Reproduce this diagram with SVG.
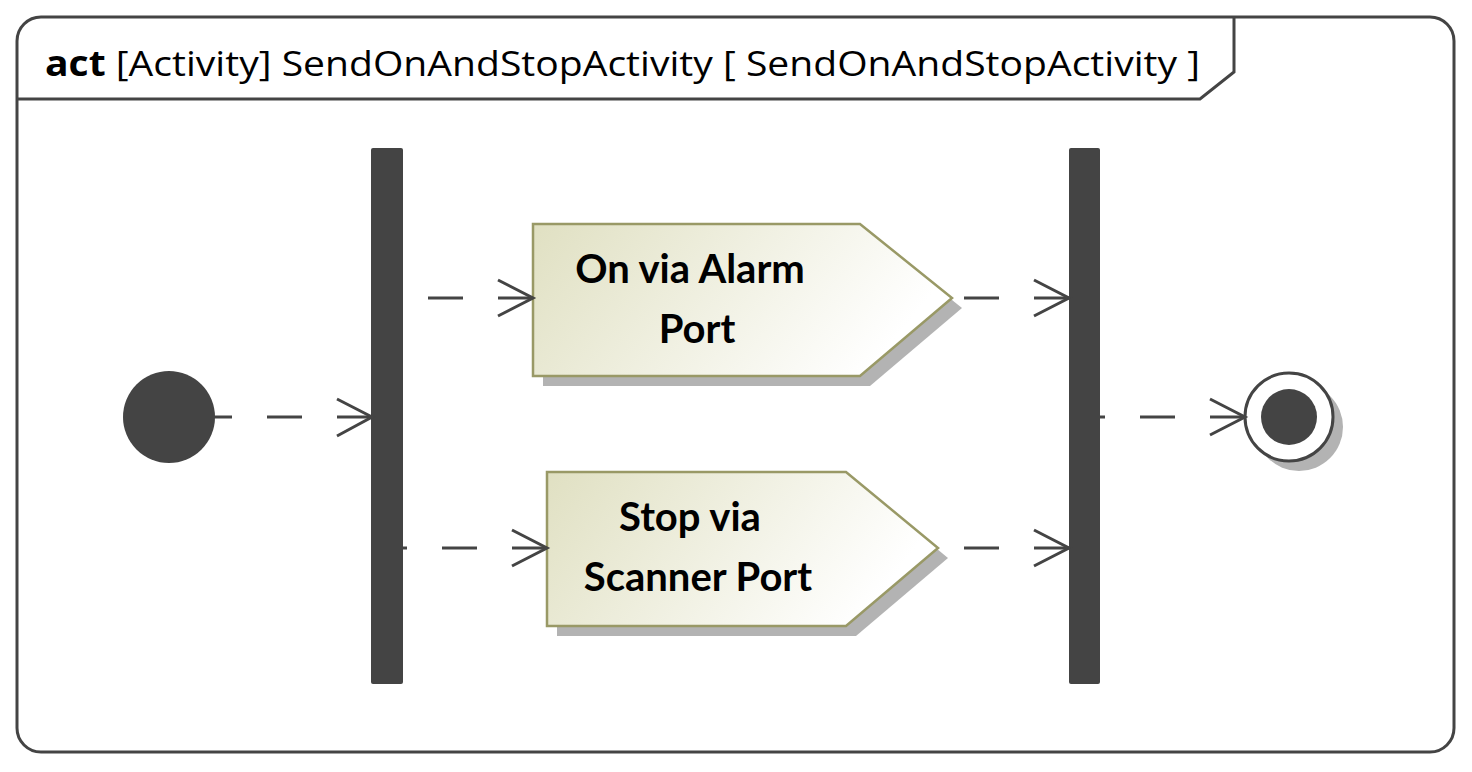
<svg xmlns="http://www.w3.org/2000/svg" width="1472" height="772" viewBox="0 0 1472 772">
<style>
.frame{fill:#fff;stroke:#444;stroke-width:3}
.bar{fill:#444}
.edge{fill:none;stroke:#444;stroke-width:3;stroke-dasharray:35 35}
.sig{stroke:#999966;stroke-width:2.5;fill:url(#g)}
.shadow{fill:#b3b3b3}
.lbl{font-family:Lato,"Open Sans","Liberation Sans",sans-serif;font-weight:bold;font-size:40px;fill:#000;text-anchor:middle}
.title{font-family:"Open Sans","Liberation Sans",sans-serif;font-size:35px;fill:#000}
.arrow{fill:none;stroke:#444;stroke-width:3}
</style>
<defs>
<linearGradient id="g" x1="0" y1="0" x2="1" y2="0.3">
<stop offset="0" stop-color="#e0e0c2"/>
<stop offset="1" stop-color="#ffffff"/>
</linearGradient>
</defs>
<g id="frame">
<rect class="frame" x="17" y="17" width="1437" height="735" rx="24" ry="24"/>
<path d="M17,99 L1200,99 L1234,72 L1234,17" fill="none" stroke="#444" stroke-width="3"/>
<text class="title" x="45" y="76" textLength="1155" lengthAdjust="spacingAndGlyphs"><tspan font-weight="bold">act</tspan> [Activity] SendOnAndStopActivity [ SendOnAndStopActivity  ]</text>
</g>
<g id="initial">
<circle cx="169" cy="417" r="46" fill="#444"/>
</g>
<g id="fork">
<rect class="bar" x="371" y="148" width="32" height="536" rx="2"/>
</g>
<g id="join">
<rect class="bar" x="1069" y="148" width="31" height="536" rx="2"/>
</g>
<g id="send1">
<polygon class="shadow" points="543,234 870,234 962,308 870,386 543,386"/>
<polygon class="sig" points="533,224 860,224 952,298 860,376 533,376"/>
<text class="lbl" x="690" y="283">On via Alarm</text>
<text class="lbl" x="697" y="343">Port</text>
</g>
<g id="send2">
<polygon class="shadow" points="557,482 856,482 948,558 856,636 557,636"/>
<polygon class="sig" points="547,472 846,472 938,548 846,626 547,626"/>
<text class="lbl" x="690" y="531">Stop via</text>
<text class="lbl" x="698" y="591">Scanner Port</text>
</g>
<g id="final">
<circle cx="1299" cy="427" r="44" fill="#b3b3b3"/>
<circle cx="1289" cy="417" r="44" fill="#fff" stroke="#444" stroke-width="3"/>
<circle cx="1289" cy="417" r="28" fill="#444"/>
</g>
<g id="connectors">
<path class="edge" d="M372,417 L214,417"/>
<path class="arrow" d="M337,399 L372,417 L337,436"/>
<path class="edge" d="M533,298 L403,298"/>
<path class="arrow" d="M498,280 L533,298 L498,316"/>
<path class="edge" d="M1069,298 L952,298"/>
<path class="arrow" d="M1034,280 L1069,298 L1034,316"/>
<path class="edge" d="M547,548 L403,548"/>
<path class="arrow" d="M512,530 L547,548 L512,566"/>
<path class="edge" d="M1069,548 L938,548"/>
<path class="arrow" d="M1034,530 L1069,548 L1034,566"/>
<path class="edge" d="M1245,417 L1100,417"/>
<path class="arrow" d="M1210,399 L1245,417 L1210,435"/>
</g>
</svg>
